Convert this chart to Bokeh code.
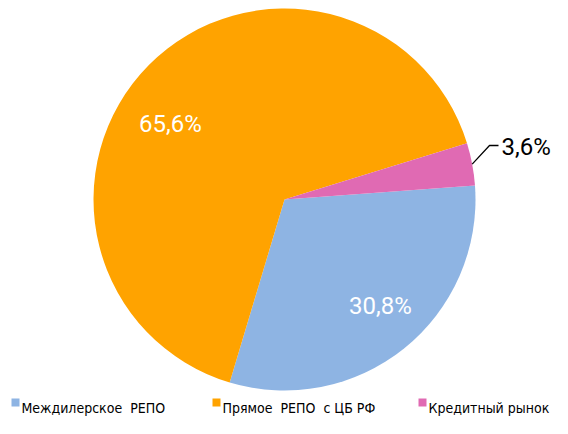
import math
from bokeh.plotting import figure
from bokeh.models import Range1d
from bokeh.core.properties import value
from bokeh.embed import file_html
from bokeh.resources import INLINE

# ---- data ----
categories = ["Междилерское\u00a0\u00a0РЕПО", "Прямое\u00a0\u00a0РЕПО\u00a0\u00a0с ЦБ РФ", "Кредитный рынок"]
shares = [30.8, 65.6, 3.6]
labels = ["30,8%", "65,6%", "3,6%"]
colors = ["#8EB4E3", "#FFA300", "#E06AB3"]

# ---- layout (pixel coordinates from top-left of the figure) ----
W, H = 552, 418
def Y(py):
    return H - py

p = figure(width=W, height=H, x_range=Range1d(0, W), y_range=Range1d(0, H),
           output_backend="svg", toolbar_location=None, min_border=0)
p.axis.visible = False
p.grid.visible = False
p.outline_line_color = None
p.background_fill_color = "white"
p.border_fill_color = "white"

cx, cy, r = 284, Y(199), 191
start0 = math.radians(4.2)
total = sum(shares)
starts, ends, mids = [], [], []
cum = 0.0
for s in shares:
    a0 = start0 - 2 * math.pi * cum / total
    a1 = a0 - 2 * math.pi * s / total
    starts.append(a0)
    ends.append(a1)
    mids.append((a0 + a1) / 2)
    cum += s

p.wedge(x=[cx] * len(shares), y=[cy] * len(shares), radius=r,
        start_angle=starts, end_angle=ends, direction="clock",
        fill_color=colors, line_color=None)

label_font = value("Roboto")
# inside labels (white)
p.text(x=[380, 170], y=[Y(305), Y(123)], text=[labels[0], labels[1]],
       text_color="white", text_font=label_font, text_font_size="24px",
       text_align="center", text_baseline="alphabetic")
# outside label for small slice with leader line
m = mids[2]
lx0 = cx + r * math.cos(m)
ly0 = cy + r * math.sin(m)
p.line(x=[lx0, 489, 498], y=[ly0, Y(145), Y(145)], line_color="black", line_width=1.3)
p.text(x=[501], y=[Y(146)], text=[labels[2]], text_color="black",
       text_font=label_font, text_font_size="24px",
       text_align="left", text_baseline="alphabetic")

# legend
leg_sq_x = [15, 216, 422]
leg_tx_x = [21, 222, 428]
p.scatter(x=leg_sq_x, y=[Y(402)] * 3, marker="square", size=8,
          fill_color=colors, line_color=None)
p.text(x=leg_tx_x, y=[Y(407)] * 3, text=categories, text_color="#000000",
       text_font=value("DejaVu Sans Condensed"), text_font_size="14px",
       text_align="left", text_baseline="alphabetic")

open("out.html", "w").write(file_html(p, INLINE))
